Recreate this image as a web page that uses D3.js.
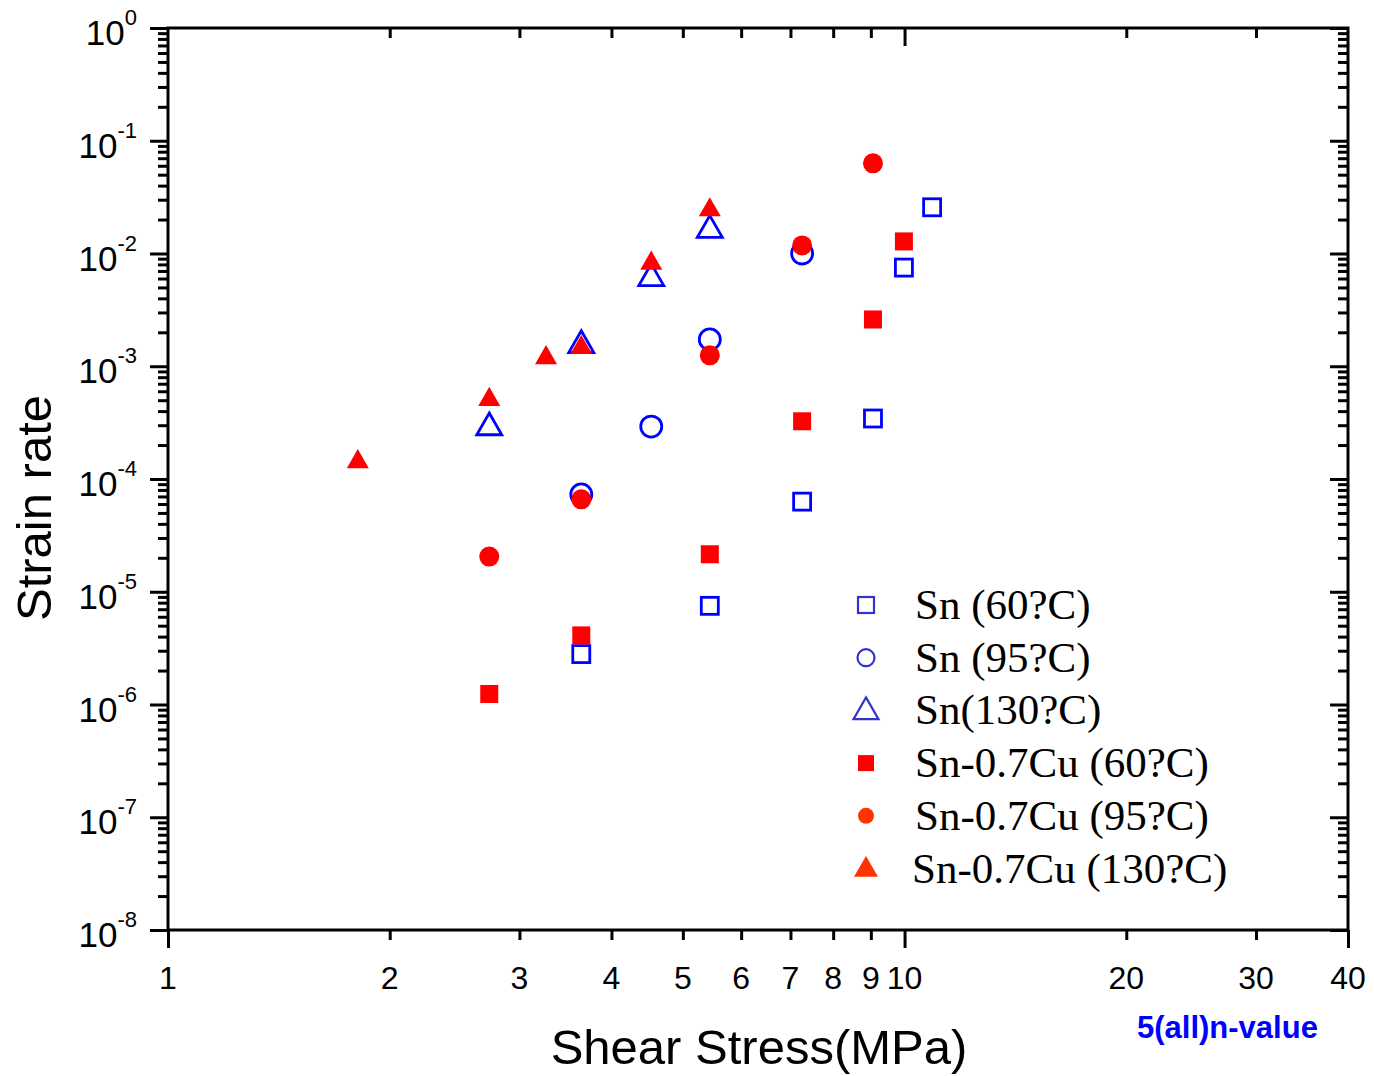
<!DOCTYPE html>
<html>
<head>
<meta charset="utf-8">
<script src="https://cdn.jsdelivr.net/npm/d3@7"></script>
<style>
  body { margin: 0; background: #fff; }
  .axis path, .axis line { stroke: #000; }
  .tick-label { font-family: "Liberation Sans", Arial, sans-serif; font-size: 32px; fill: #000; }
  .axis-title { font-family: "Liberation Sans", Arial, sans-serif; font-size: 49px; fill: #000; }
  .legend-label { font-family: "Liberation Serif", "Times New Roman", serif; font-size: 43px; fill: #000; }
</style>
</head>
<body>
<svg id="chart"></svg>
<script>
const width = 1374;
const height = 1076;

// data: shear stress (MPa) and strain rate (1/s)
const snT60Stress = [3.64, 5.44, 7.26, 9.06, 9.98, 10.9];
const snT60Rate = [2.8e-6, 7.5e-6, 6.3e-5, 3.44e-4, 7.5e-3, 2.57e-2];

const snT95Stress = [3.64, 4.53, 5.44, 7.26];
const snT95Rate = [7.3e-5, 2.92e-4, 1.73e-3, 1.0e-2];

const snT130Stress = [2.73, 3.64, 4.53, 5.44];
const snT130Rate = [2.95e-4, 1.58e-3, 6.2e-3, 1.66e-2];

const cuT60Stress = [2.73, 3.64, 5.44, 7.26, 9.06, 9.98];
const cuT60Rate = [1.24e-6, 4.1e-6, 2.15e-5, 3.25e-4, 2.6e-3, 1.28e-2];

const cuT95Stress = [2.73, 3.64, 5.44, 7.26, 9.06];
const cuT95Rate = [2.05e-5, 6.6e-5, 1.25e-3, 1.18e-2, 6.3e-2];

const cuT130Stress = [1.81, 2.73, 3.26, 3.64, 4.53, 5.44];
const cuT130Rate = [1.46e-4, 5.2e-4, 1.22e-3, 1.5e-3, 8.4e-3, 2.5e-2];

const seriesNames = [
  "Sn (60?C)", "Sn (95?C)", "Sn(130?C)",
  "Sn-0.7Cu (60?C)", "Sn-0.7Cu (95?C)", "Sn-0.7Cu (130?C)"
];

const xTickLabels = [1, 2, 3, 4, 5, 6, 7, 8, 9, 10, 20, 30, 40];
const yExponents = [0, -1, -2, -3, -4, -5, -6, -7, -8];

const margin = { top: 28, right: 26, bottom: 146, left: 168 };
const innerW = width - margin.left - margin.right;
const innerH = height - margin.top - margin.bottom;

const svg = d3.select("#chart").attr("width", width).attr("height", height);
const g = svg.append("g").attr("transform", `translate(${margin.left},${margin.top})`);

const x = d3.scaleLog().domain([1, 40]).range([0, innerW]);
const y = d3.scaleLog().domain([1e-8, 1]).range([innerH, 0]);

// tick values
const xMinor = [2, 3, 4, 5, 6, 7, 8, 9, 20, 30];
const xMajor = [1, 10, 40];
const yMajor = yExponents.map((e) => Math.pow(10, e));
const yMinor = [];
for (let e = -8; e < 0; e++) {
  for (let k = 2; k <= 9; k++) yMinor.push(k * Math.pow(10, e));
}

const styleAxis = (sel) => {
  sel.select(".domain").remove();
  sel.selectAll("line").attr("stroke-width", 3);
  sel.selectAll("text").remove();
};

// bottom (outward)
g.append("g").attr("class", "axis").attr("transform", `translate(0,${innerH})`)
  .call(d3.axisBottom(x).tickValues(xMinor).tickSize(10)).call(styleAxis);
g.append("g").attr("class", "axis").attr("transform", `translate(0,${innerH})`)
  .call(d3.axisBottom(x).tickValues(xMajor).tickSize(18)).call(styleAxis);
// top (inward)
g.append("g").attr("class", "axis")
  .call(d3.axisTop(x).tickValues(xMinor).tickSize(-10)).call(styleAxis);
g.append("g").attr("class", "axis")
  .call(d3.axisTop(x).tickValues([10]).tickSize(-18)).call(styleAxis);
// left (outward)
g.append("g").attr("class", "axis")
  .call(d3.axisLeft(y).tickValues(yMinor).tickSize(10)).call(styleAxis);
g.append("g").attr("class", "axis")
  .call(d3.axisLeft(y).tickValues(yMajor).tickSize(18)).call(styleAxis);
// right (inward)
g.append("g").attr("class", "axis").attr("transform", `translate(${innerW},0)`)
  .call(d3.axisRight(y).tickValues(yMinor).tickSize(-10)).call(styleAxis);
g.append("g").attr("class", "axis").attr("transform", `translate(${innerW},0)`)
  .call(d3.axisRight(y).tickValues(yMajor).tickSize(-18)).call(styleAxis);

// frame
g.append("rect")
  .attr("width", innerW)
  .attr("height", innerH)
  .attr("fill", "none")
  .attr("stroke", "#000")
  .attr("stroke-width", 3);

// x tick labels
g.append("g").selectAll("text")
  .data(xTickLabels)
  .join("text")
  .attr("class", "tick-label")
  .attr("x", (d) => x(d))
  .attr("y", innerH + 59)
  .attr("text-anchor", "middle")
  .text((d) => d);

// y tick labels with superscript exponents
g.append("g").selectAll("text")
  .data(yExponents)
  .join("text")
  .attr("class", "tick-label")
  .style("font-size", "35px")
  .attr("x", -31)
  .attr("y", (d) => y(Math.pow(10, d)) + 17)
  .attr("text-anchor", "end")
  .call((t) => t.append("tspan").text("10"))
  .call((t) =>
    t.append("tspan")
      .attr("dy", -20)
      .style("font-size", "22px")
      .text((d) => d)
  );

// axis titles
svg.append("text")
  .attr("class", "axis-title")
  .attr("x", 759)
  .attr("y", 1064)
  .attr("text-anchor", "middle")
  .text("Shear Stress(MPa)");

svg.append("text")
  .attr("class", "axis-title")
  .attr("transform", "translate(51,508) rotate(-90)")
  .attr("text-anchor", "middle")
  .text("Strain rate");

svg.append("text")
  .attr("x", 1137)
  .attr("y", 1038)
  .attr("font-family", "Liberation Sans, Arial, sans-serif")
  .attr("font-weight", "bold")
  .attr("font-size", 31)
  .attr("fill", "#0000ff")
  .text("5(all)n-value");

// marker drawing
const drawMarker = (sel, shape, filled, color, s) => {
  if (shape === "square") {
    sel.append("rect")
      .attr("x", -s / 2).attr("y", -s / 2)
      .attr("width", s).attr("height", s);
  } else if (shape === "circle") {
    sel.append("circle").attr("r", s / 2);
  } else {
    const h = s * 0.87;
    sel.append("path")
      .attr("d", `M0,${-h * 0.6}L${s / 2},${h * 0.4}L${-s / 2},${h * 0.4}Z`);
  }
  sel.selectAll("rect,circle,path")
    .attr("fill", filled ? color : "none")
    .attr("stroke", filled ? "none" : color)
    .attr("stroke-width", filled ? 0 : 2.8);
};

const series = [
  { stress: snT60Stress, rate: snT60Rate, shape: "square", filled: false, color: "#0000ff", size: 17 },
  { stress: snT95Stress, rate: snT95Rate, shape: "circle", filled: false, color: "#0000ff", size: 21 },
  { stress: snT130Stress, rate: snT130Rate, shape: "triangle", filled: false, color: "#0000ff", size: 25 },
  { stress: cuT60Stress, rate: cuT60Rate, shape: "square", filled: true, color: "#ff0000", size: 18 },
  { stress: cuT95Stress, rate: cuT95Rate, shape: "circle", filled: true, color: "#ff0000", size: 20 },
  { stress: cuT130Stress, rate: cuT130Rate, shape: "triangle", filled: true, color: "#ff0000", size: 22 }
];

series.forEach((s) => {
  s.stress.forEach((v, i) => {
    g.append("g")
      .attr("transform", `translate(${x(v)},${y(s.rate[i])})`)
      .call((m) => drawMarker(m, s.shape, s.filled, s.color, s.size));
  });
});

// legend
const legendColors = ["#3333cc", "#3333cc", "#3333cc", "#ff0000", "#ff3300", "#ff3300"];
const legendSizes = [16, 17, 25, 16, 16, 24];
const legend = svg.append("g").attr("transform", "translate(866,605)");
seriesNames.forEach((name, i) => {
  const row = legend.append("g").attr("transform", `translate(0,${i * 52.7})`);
  row.append("g").call((m) =>
    drawMarker(m, series[i].shape, series[i].filled, legendColors[i], legendSizes[i])
  );
  row.selectAll("rect,circle,path").filter(function () {
    return this.getAttribute("stroke") !== "none";
  }).attr("stroke-width", 2.2);
  row.append("text")
    .attr("class", "legend-label")
    .attr("x", i === 5 ? 46 : 49)
    .attr("y", 14)
    .text(name);
});
</script>
</body>
</html>
